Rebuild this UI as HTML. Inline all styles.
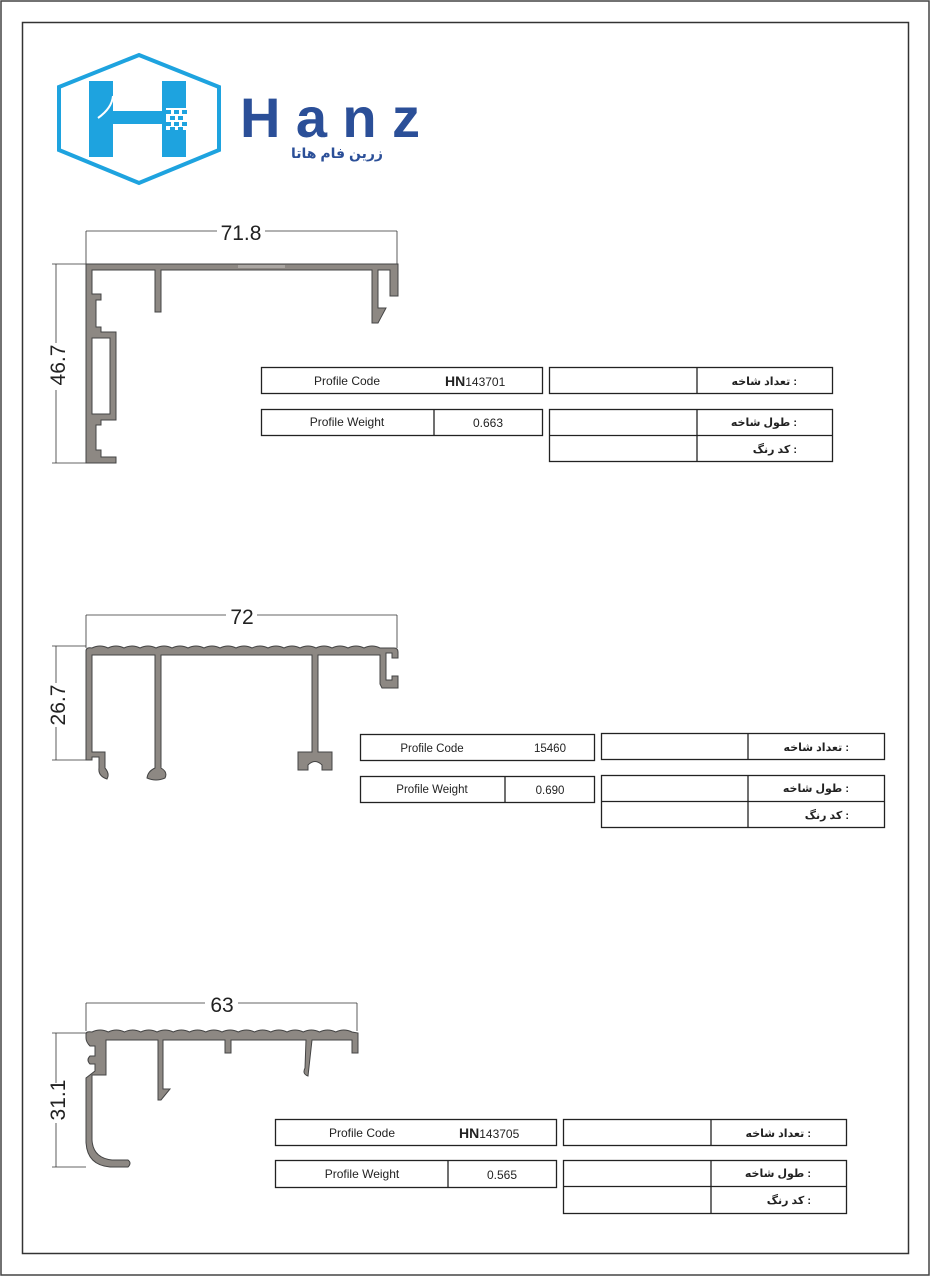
<!DOCTYPE html>
<html><head><meta charset="utf-8"><style>
html,body{margin:0;padding:0;background:#fff}
svg{display:block}
text{font-family:"Liberation Sans","DejaVu Sans",sans-serif}
</style></head><body>
<svg width="930" height="1276" viewBox="0 0 930 1276" xmlns="http://www.w3.org/2000/svg">
<rect x="1" y="1" width="928" height="1274" fill="none" stroke="#444" stroke-width="1.5"/>
<rect x="22.5" y="22.5" width="886" height="1231" fill="none" stroke="#333" stroke-width="1.5"/>

<!-- logo -->
<polygon points="139,55 219,87 219,150 139,183 59,150 59,87" fill="none" stroke="#1ea3df" stroke-width="4"/>
<rect x="89" y="81" width="24" height="76" fill="#1ea3df"/>
<rect x="162" y="81" width="24" height="76" fill="#1ea3df"/>
<path d="M113 111 Q103 113 96 120 L89 120 L89 124 L162 124 L162 111 Z" fill="#1ea3df"/>
<path d="M113 96 Q112 108 98 118" stroke="#fff" stroke-width="2" fill="none"/>
<rect x="162" y="108" width="26" height="22" fill="#fff"/>
<g fill="#1ea3df">
<rect x="162" y="108" width="4" height="22"/>
<rect x="166" y="110" width="5" height="4"/><rect x="174" y="110" width="5" height="4"/><rect x="182" y="110" width="5" height="4"/>
<rect x="170" y="116" width="5" height="4"/><rect x="178" y="116" width="5" height="4"/>
<rect x="166" y="122" width="5" height="4"/><rect x="174" y="122" width="5" height="4"/><rect x="182" y="122" width="5" height="4"/>
<rect x="170" y="127" width="5" height="3"/><rect x="178" y="127" width="5" height="3"/>
</g>
<text x="240" y="137" font-size="56" font-weight="bold" fill="#2b4f98" textLength="180" lengthAdjust="spacing">Hanz</text>
<text x="337" y="158" font-size="14" font-weight="bold" fill="#2b4f98" text-anchor="middle" font-family="DejaVu Sans, sans-serif">زرین فام هاتا</text>

<!-- profile 1 -->
<g stroke="#333" stroke-width="0.8" fill="none">
<line x1="86" y1="231" x2="86" y2="264"/><line x1="397" y1="231" x2="397" y2="264"/>
<line x1="86" y1="231" x2="217" y2="231"/><line x1="265" y1="231" x2="397" y2="231"/>
<line x1="52" y1="264" x2="86" y2="264"/><line x1="52" y1="463" x2="86" y2="463"/>
<line x1="56" y1="264" x2="56" y2="343"/><line x1="56" y1="390" x2="56" y2="463"/>
</g>
<text x="241" y="240" font-size="21" text-anchor="middle" fill="#222">71.8</text>
<text transform="translate(65,365) rotate(-90)" font-size="21" text-anchor="middle" fill="#222">46.7</text>
<path fill="#8d8883" stroke="#444" stroke-width="1" fill-rule="evenodd" d="M86 264 L398 264 L398 296 L390 296 L390 270 L378 270 L378 308 L386 308 L378 323 L372 323 L372 270 L161 270 L161 312 L155 312 L155 270 L92 270 L92 294 L101 294 L101 300 L96 300 L96 327 L101 327 L101 332 L116 332 L116 420 L101 420 L101 425 L96 425 L96 450 L101 450 L101 457 L116 457 L116 463 L86 463 Z M92 338 L110 338 L110 414 L92 414 Z"/>
<rect x="238" y="265" width="47" height="3" fill="#aaa6a2"/>

<!-- profile 2 -->
<g stroke="#333" stroke-width="0.8" fill="none">
<line x1="86" y1="615" x2="86" y2="648"/><line x1="397" y1="615" x2="397" y2="648"/>
<line x1="86" y1="615" x2="226" y2="615"/><line x1="257" y1="615" x2="397" y2="615"/>
<line x1="52" y1="646" x2="86" y2="646"/><line x1="52" y1="760" x2="86" y2="760"/>
<line x1="56" y1="646" x2="56" y2="683"/><line x1="56" y1="727" x2="56" y2="760"/>
</g>
<text x="242" y="624" font-size="21" text-anchor="middle" fill="#222">72</text>
<text transform="translate(65,705) rotate(-90)" font-size="21" text-anchor="middle" fill="#222">26.7</text>
<path fill="#8d8883" stroke="#444" stroke-width="1" d="M86 651 Q86 647 92 648 q8 -4 16 0 q8 -4 16 0 q8 -4 16 0 q8 -4 16 0 q8 -4 16 0 q8 -4 16 0 q8 -4 16 0 q8 -4 16 0 q8 -4 16 0 q8 -4 16 0 q8 -4 16 0 q8 -4 16 0 q8 -4 16 0 q8 -4 16 0 q8 -4 16 0 q8 -4 16 0 q8 -4 16 0 q8 -4 16 0 L394 648 Q398 648 398 652 L398 658 L392 658 L392 653 L386 653 L386 680 L392 680 L392 676 L398 676 L398 688 L382 688 L380 684 L380 655 L318 655 L318 752 L332 752 L332 770 L322 770 L322 765 Q315 758 308 765 L308 770 L298 770 L298 752 L312 752 L312 655 L161 655 L161 768 Q168 772 165 778 Q156 782 147 778 Q148 771 155 768 L155 655 L92 655 L92 752 L105 752 L105 768 Q110 774 107 779 Q98 776 99 768 L99 757 L92 757 L92 760 L86 760 Z"/>

<!-- profile 3 -->
<g stroke="#333" stroke-width="0.8" fill="none">
<line x1="86" y1="1003" x2="86" y2="1031"/><line x1="357" y1="1003" x2="357" y2="1031"/>
<line x1="86" y1="1003" x2="205" y2="1003"/><line x1="238" y1="1003" x2="357" y2="1003"/>
<line x1="52" y1="1033" x2="86" y2="1033"/><line x1="52" y1="1167" x2="86" y2="1167"/>
<line x1="56" y1="1033" x2="56" y2="1083"/><line x1="56" y1="1123" x2="56" y2="1167"/>
</g>
<text x="222" y="1012" font-size="21" text-anchor="middle" fill="#222">63</text>
<text transform="translate(65,1100) rotate(-90)" font-size="21" text-anchor="middle" fill="#222">31.1</text>
<path fill="#8d8883" stroke="#444" stroke-width="1" d="M86 1034 Q86 1031 92 1032 q8.1 -4 16.25 0 q8.1 -4 16.25 0 q8.1 -4 16.25 0 q8.1 -4 16.25 0 q8.1 -4 16.25 0 q8.1 -4 16.25 0 q8.1 -4 16.25 0 q8.1 -4 16.25 0 q8.1 -4 16.25 0 q8.1 -4 16.25 0 q8.1 -4 16.25 0 q8.1 -4 16.25 0 q8.1 -4 16.25 0 q8.1 -4 16.25 0 q8.1 -4 16.25 0 q8.1 -4 16.25 0 L358 1033 L358 1053 L352 1053 L352 1040 L312 1040 L308 1076 Q302 1074 305 1068 L306 1040 L231 1040 L231 1053 L225 1053 L225 1040 L163 1040 L163 1089 L170 1089 L161 1100 L158 1100 L158 1040 L106 1040 L106 1075 L92 1075 L92 1140 Q93 1158 112 1160 L128 1160 Q132 1163 128 1167 L110 1167 Q87 1165 86 1142 L86 1078 L95 1071 L95 1064 L90 1064 Q86 1060 90 1056 L95 1056 L95 1046 L90 1046 Q86 1042 86 1038 Z"/>

<!-- tables -->
<g fill="none" stroke="#222" stroke-width="1.3">
<rect x="261.5" y="367.5" width="281" height="26"/>
<rect x="261.5" y="409.5" width="281" height="26"/><line x1="434" y1="409" x2="434" y2="436"/>
<rect x="549.5" y="367.5" width="283" height="26"/><line x1="697" y1="367" x2="697" y2="394"/>
<rect x="549.5" y="409.5" width="283" height="52"/><line x1="697" y1="409" x2="697" y2="462"/><line x1="549" y1="435.5" x2="833" y2="435.5"/>

<rect x="360.5" y="734.5" width="234" height="26"/>
<rect x="360.5" y="776.5" width="234" height="26"/><line x1="505" y1="776" x2="505" y2="803"/>
<rect x="601.5" y="733.5" width="283" height="26"/><line x1="748" y1="733" x2="748" y2="760"/>
<rect x="601.5" y="775.5" width="283" height="52"/><line x1="748" y1="775" x2="748" y2="828"/><line x1="601" y1="801.5" x2="885" y2="801.5"/>

<rect x="275.5" y="1119.5" width="281" height="26"/>
<rect x="275.5" y="1160.5" width="281" height="27"/><line x1="448" y1="1160" x2="448" y2="1188"/>
<rect x="563.5" y="1119.5" width="283" height="26"/><line x1="711" y1="1119" x2="711" y2="1146"/>
<rect x="563.5" y="1160.5" width="283" height="53"/><line x1="711" y1="1160" x2="711" y2="1214"/><line x1="563" y1="1186.5" x2="847" y2="1186.5"/>
</g>
<g font-size="12" fill="#222">
<text x="347" y="385" text-anchor="middle">Profile Code</text>
<text x="445" y="386" font-size="14" font-weight="bold">HN<tspan font-size="12" font-weight="normal">143701</tspan></text>
<text x="347" y="426" text-anchor="middle">Profile Weight</text>
<text x="488" y="427" text-anchor="middle">0.663</text>

<text x="432" y="752" text-anchor="middle" font-size="11.5">Profile Code</text>
<text x="550" y="752" text-anchor="middle" font-size="11.5">15460</text>
<text x="432" y="793" text-anchor="middle" font-size="11.5">Profile Weight</text>
<text x="550" y="794" text-anchor="middle" font-size="11.5">0.690</text>

<text x="362" y="1137" text-anchor="middle">Profile Code</text>
<text x="459" y="1138" font-size="14" font-weight="bold">HN<tspan font-size="12" font-weight="normal">143705</tspan></text>
<text x="362" y="1178" text-anchor="middle">Profile Weight</text>
<text x="502" y="1179" text-anchor="middle">0.565</text>
</g>
<g font-size="11" font-weight="bold" fill="#222" font-family="DejaVu Sans, sans-serif" text-anchor="end">
<text x="797" y="385">تعداد شاخه :</text>
<text x="797" y="426">طول شاخه :</text>
<text x="797" y="453">کد رنگ :</text>
<text x="849" y="751">تعداد شاخه :</text>
<text x="849" y="792">طول شاخه :</text>
<text x="849" y="819">کد رنگ :</text>
<text x="811" y="1137">تعداد شاخه :</text>
<text x="811" y="1177">طول شاخه :</text>
<text x="811" y="1204">کد رنگ :</text>
</g>
</svg>
</body></html>
